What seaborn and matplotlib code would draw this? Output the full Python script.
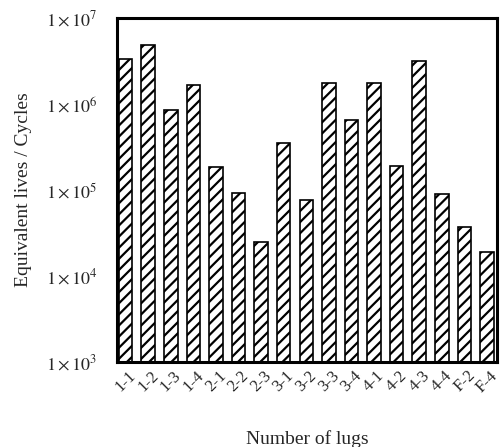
import matplotlib
matplotlib.use("Agg")
import matplotlib.pyplot as plt
import pandas as pd
import seaborn as sns

lugs = ["1-1", "1-2", "1-3", "1-4", "2-1", "2-2", "2-3", "3-1", "3-2",
        "3-3", "3-4", "4-1", "4-2", "4-3", "4-4", "F-2", "F-4"]
lives = [3.3e6, 4.9e6, 8.5e5, 1.66e6, 1.85e5, 9.2e4, 2.5e4, 3.5e5, 7.7e4,
         1.75e6, 6.5e5, 1.75e6, 1.9e5, 3.16e6, 9.0e4, 3.7e4, 1.9e4]
y_ticks = [1e3, 1e4, 1e5, 1e6, 1e7]
y_ticklabels = [r"$1\times10^{3}$", r"$1\times10^{4}$", r"$1\times10^{5}$",
                r"$1\times10^{6}$", r"$1\times10^{7}$"]

sns.set_style("white")
plt.rcParams["font.family"] = ["Liberation Serif", "DejaVu Serif"]
plt.rcParams["mathtext.fontset"] = "stix"
plt.rcParams["hatch.linewidth"] = 1.6

df = pd.DataFrame({"lug": lugs, "life": lives})

fig = plt.figure(figsize=(5.03, 4.47), dpi=100)
ax = fig.add_axes([0.2326, 0.19, 0.7554, 0.77])

sns.barplot(data=df, x="lug", y="life", ax=ax, color="white", width=0.6,
            edgecolor="black", linewidth=1.2, hatch="///", saturation=1)
ax.set_yscale("log")
ax.set_ylim(1e3, 1e7)
ax.set_xlim(-0.38, 16.44)
ax.set_yticks(y_ticks)
ax.set_yticklabels(y_ticklabels, fontsize=13)
ax.minorticks_off()
ax.tick_params(axis="y", length=0, pad=14)
ax.tick_params(axis="x", length=0, pad=4)
ax.set_xticks(range(len(lugs)))
ax.set_xticklabels(lugs, rotation=45, ha="center", fontsize=12)

ax.set_xlabel("Number of lugs", fontsize=14, labelpad=25)
ax.set_ylabel("Equivalent lives / Cycles", fontsize=14, labelpad=10)

for spine in ax.spines.values():
    spine.set_visible(True)
    spine.set_color("black")
    spine.set_linewidth(2.2)

fig.savefig("out.png", dpi=100)
